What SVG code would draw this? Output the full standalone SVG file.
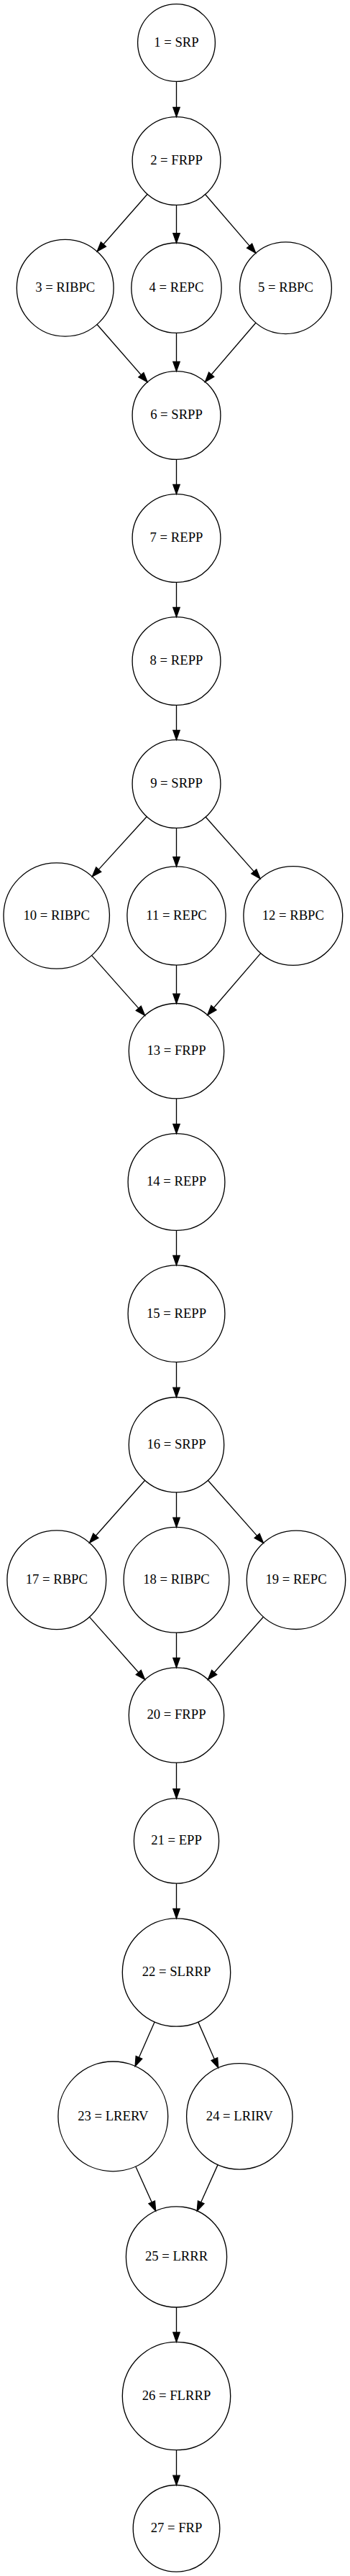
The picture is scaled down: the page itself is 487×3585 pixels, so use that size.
<svg xmlns="http://www.w3.org/2000/svg" width="487" height="3585" viewBox="0 0 487 3585">
<style>
.n circle{fill:none;stroke:#000;stroke-width:1.33}
.n text{font-family:"Liberation Serif","Times New Roman",serif;font-size:18.67px;text-anchor:middle;fill:#000}
#edges line{stroke:#000;stroke-width:1.33}
#edges polygon{fill:#000;stroke:#000;stroke-width:1.33}
</style>
<rect width="487" height="3585" fill="#fff"/>
<g id="edges">
<line x1="245.5" y1="113.4" x2="245.5" y2="149.3"/><polygon points="245.5,162.6 240.83,149.3 250.17,149.3"/>
<line x1="205.04" y1="270.19" x2="143.9" y2="339.97"/><polygon points="135.12,350 147.41,343.05 140.39,336.89"/>
<line x1="245.5" y1="285.4" x2="245.5" y2="324.7"/><polygon points="245.5,338 240.83,324.7 250.17,324.7"/>
<line x1="285.54" y1="270.55" x2="347.14" y2="342.15"/><polygon points="355.83,352.26 343.6,345.2 350.68,339.1"/>
<line x1="135.03" y1="451.47" x2="196.35" y2="521.71"/><polygon points="205.12,531.75 192.83,524.78 199.87,518.64"/>
<line x1="245.5" y1="463.4" x2="245.5" y2="503.3"/><polygon points="245.5,516.6 240.83,503.3 250.17,503.3"/>
<line x1="355.91" y1="449.21" x2="294.15" y2="521.27"/><polygon points="285.47,531.39 297.7,524.31 290.6,518.23"/>
<line x1="245.5" y1="639.4" x2="245.5" y2="674.3"/><polygon points="245.5,687.6 240.83,674.3 250.17,674.3"/>
<line x1="245.5" y1="810.4" x2="245.5" y2="845.3"/><polygon points="245.5,858.6 240.83,845.3 250.17,845.3"/>
<line x1="245.5" y1="981.4" x2="245.5" y2="1016.3"/><polygon points="245.5,1029.6 240.83,1016.3 250.17,1016.3"/>
<line x1="204.2" y1="1136.44" x2="137.24" y2="1210.1"/><polygon points="128.27,1219.96 140.7,1213.24 133.78,1206.96"/>
<line x1="245.5" y1="1152.4" x2="245.5" y2="1192.6"/><polygon points="245.5,1205.9 240.83,1192.6 250.17,1192.6"/>
<line x1="286.18" y1="1136.99" x2="353.32" y2="1212.9"/><polygon points="362.15,1222.89 349.82,1215.99 356.82,1209.81"/>
<line x1="127.58" y1="1329.66" x2="192.75" y2="1403.18"/><polygon points="201.59,1413.16 189.25,1406.28 196.25,1400.08"/>
<line x1="245.5" y1="1343.1" x2="245.5" y2="1383.2"/><polygon points="245.5,1396.5 240.83,1383.2 250.17,1383.2"/>
<line x1="362.8" y1="1326.68" x2="297.44" y2="1402.48"/><polygon points="288.73,1412.57 300.98,1405.53 293.9,1399.43"/>
<line x1="245.5" y1="1528.9" x2="245.5" y2="1564.3"/><polygon points="245.5,1577.6 240.83,1564.3 250.17,1564.3"/>
<line x1="245.5" y1="1712.4" x2="245.5" y2="1747.5"/><polygon points="245.5,1760.8 240.83,1747.5 250.17,1747.5"/>
<line x1="245.5" y1="1895.6" x2="245.5" y2="1931.2"/><polygon points="245.5,1944.5 240.83,1931.2 250.17,1931.2"/>
<line x1="201.6" y1="2060.24" x2="133.33" y2="2137.26"/><polygon points="124.49,2147.24 136.83,2140.36 129.83,2134.16"/>
<line x1="245.5" y1="2076.9" x2="245.5" y2="2112.1"/><polygon points="245.5,2125.4 240.83,2112.1 250.17,2112.1"/>
<line x1="289.38" y1="2060.27" x2="357.63" y2="2137.38"/><polygon points="366.47,2147.36 354.13,2140.48 361.13,2134.28"/>
<line x1="124.49" y1="2250.38" x2="192.76" y2="2327.46"/><polygon points="201.6,2337.44 189.26,2330.56 196.26,2324.36"/>
<line x1="245.5" y1="2272.2" x2="245.5" y2="2307.5"/><polygon points="245.5,2320.8 240.83,2307.5 250.17,2307.5"/>
<line x1="366.48" y1="2250.26" x2="298.19" y2="2327.44"/><polygon points="289.36,2337.42 301.69,2330.53 294.69,2324.35"/>
<line x1="245.5" y1="2453.2" x2="245.5" y2="2489.6"/><polygon points="245.5,2502.9 240.83,2489.6 250.17,2489.6"/>
<line x1="245.5" y1="2621.1" x2="245.5" y2="2656.5"/><polygon points="245.5,2669.8 240.83,2656.5 250.17,2656.5"/>
<line x1="215.21" y1="2813.83" x2="193.44" y2="2863.27"/><polygon points="188.07,2875.47 197.71,2865.15 189.17,2861.39"/>
<line x1="275.68" y1="2813.88" x2="298.37" y2="2865.68"/><polygon points="303.72,2877.89 294.09,2867.55 302.65,2863.81"/>
<line x1="188.72" y1="3015.04" x2="211.19" y2="3064.85"/><polygon points="216.67,3077 206.93,3066.77 215.45,3062.93"/>
<line x1="303.11" y1="3012.63" x2="279.68" y2="3064.79"/><polygon points="274.22,3076.95 283.94,3066.7 275.42,3062.88"/>
<line x1="245.5" y1="3211" x2="245.5" y2="3246"/><polygon points="245.5,3259.3 240.83,3246 250.17,3246"/>
<line x1="245.5" y1="3409.7" x2="245.5" y2="3445.2"/><polygon points="245.5,3458.5 240.83,3445.2 250.17,3445.2"/>
</g>
<g id="n1" class="n"><circle cx="245.5" cy="59.5" r="53.9"/><text x="245.5" y="64.8">1 = SRP</text></g>
<g id="n2" class="n"><circle cx="245.5" cy="224" r="61.4"/><text x="245.5" y="229.3">2 = FRPP</text></g>
<g id="n3" class="n"><circle cx="90.7" cy="400.7" r="67.4"/><text x="90.7" y="406">3 = RIBPC</text></g>
<g id="n4" class="n"><circle cx="245.5" cy="400.7" r="62.7"/><text x="245.5" y="406">4 = REPC</text></g>
<g id="n5" class="n"><circle cx="397.5" cy="400.7" r="63.9"/><text x="397.5" y="406">5 = RBPC</text></g>
<g id="n6" class="n"><circle cx="245.5" cy="578" r="61.4"/><text x="245.5" y="583.3">6 = SRPP</text></g>
<g id="n7" class="n"><circle cx="245.5" cy="749" r="61.4"/><text x="245.5" y="754.3">7 = REPP</text></g>
<g id="n8" class="n"><circle cx="245.5" cy="920" r="61.4"/><text x="245.5" y="925.3">8 = REPP</text></g>
<g id="n9" class="n"><circle cx="245.5" cy="1091" r="61.4"/><text x="245.5" y="1096.3">9 = SRPP</text></g>
<g id="n10" class="n"><circle cx="78.7" cy="1274.5" r="73.7"/><text x="78.7" y="1279.8">10 = RIBPC</text></g>
<g id="n11" class="n"><circle cx="245.5" cy="1274.5" r="68.6"/><text x="245.5" y="1279.8">11 = REPC</text></g>
<g id="n12" class="n"><circle cx="407.8" cy="1274.5" r="68.9"/><text x="407.8" y="1279.8">12 = RBPC</text></g>
<g id="n13" class="n"><circle cx="245.5" cy="1462.7" r="66.2"/><text x="245.5" y="1468">13 = FRPP</text></g>
<g id="n14" class="n"><circle cx="245.5" cy="1645" r="67.4"/><text x="245.5" y="1650.3">14 = REPP</text></g>
<g id="n15" class="n"><circle cx="245.5" cy="1828.2" r="67.4"/><text x="245.5" y="1833.5">15 = REPP</text></g>
<g id="n16" class="n"><circle cx="245.5" cy="2010.7" r="66.2"/><text x="245.5" y="2016">16 = SRPP</text></g>
<g id="n17" class="n"><circle cx="78.8" cy="2198.8" r="68.9"/><text x="78.8" y="2204.1">17 = RBPC</text></g>
<g id="n18" class="n"><circle cx="245.5" cy="2198.8" r="73.4"/><text x="245.5" y="2204.1">18 = RIBPC</text></g>
<g id="n19" class="n"><circle cx="412" cy="2198.8" r="68.7"/><text x="412" y="2204.1">19 = REPC</text></g>
<g id="n20" class="n"><circle cx="245.5" cy="2387" r="66.2"/><text x="245.5" y="2392.3">20 = FRPP</text></g>
<g id="n21" class="n"><circle cx="245.5" cy="2562" r="59.1"/><text x="245.5" y="2567.3">21 = EPP</text></g>
<g id="n22" class="n"><circle cx="245.5" cy="2745" r="75.2"/><text x="245.5" y="2750.3">22 = SLRRP</text></g>
<g id="n23" class="n"><circle cx="157.3" cy="2945.4" r="76.4"/><text x="157.3" y="2950.7">23 = LRERV</text></g>
<g id="n24" class="n"><circle cx="333.3" cy="2945.4" r="73.7"/><text x="333.3" y="2950.7">24 = LRIRV</text></g>
<g id="n25" class="n"><circle cx="245.5" cy="3140.9" r="70.1"/><text x="245.5" y="3146.2">25 = LRRR</text></g>
<g id="n26" class="n"><circle cx="245.5" cy="3334.5" r="75.2"/><text x="245.5" y="3339.8">26 = FLRRP</text></g>
<g id="n27" class="n"><circle cx="245.5" cy="3518.8" r="60.3"/><text x="245.5" y="3524.1">27 = FRP</text></g>
</svg>
